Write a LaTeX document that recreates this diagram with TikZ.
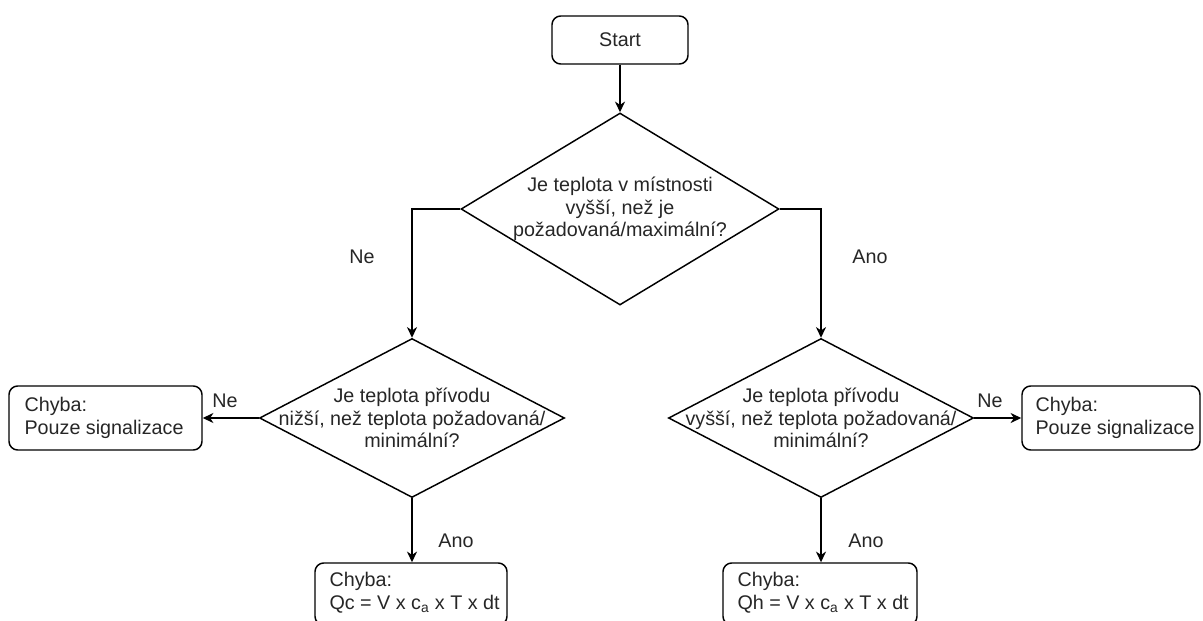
\documentclass[tikz,border=0pt]{standalone}
\usepackage{fontspec}
\setmainfont{Liberation Sans}
\usetikzlibrary{shapes.geometric}
\usetikzlibrary{arrows.meta}

\tikzset{
	every node/.style={font=\fontsize{14.8}{17}\selectfont, text=black!85},
	stepbox/.style={draw, rectangle, rounded corners=6.5pt, line width=1.1pt},
	decision/.style={draw, diamond, inner sep=0pt, line width=1.1pt},
	qtext/.style={align=center, inner sep=0pt},
	boxtext/.style={align=left, anchor=west, inner sep=0pt},
	arr/.style={-{Stealth[length=8pt, width=7.5pt, inset=2.5pt]}, line width=1.1pt},
}

\begin{document}
\begin{tikzpicture}[x=0.75pt, y=-0.75pt]
		\useasboundingbox (0, 0) rectangle (1203, 621);
		\clip (0, 0) rectangle (1203, 621);
		% Blocks:
		\node[stepbox, minimum width=102pt, minimum height=36pt] (start) at (620, 40) {Start};
		\node[decision, minimum width=238.5pt, minimum height=144pt,
			label={[qtext]center:{Je teplota v místnosti\\vyšší, než je\\požadovaná/maximální?}}] (q1) at (620, 209) {};
		\node[decision, minimum width=228.75pt, minimum height=119.25pt,
			label={[qtext]center:{Je teplota přívodu\\nižší, než teplota požadovaná/\\minimální?}}] (q2) at (412, 418) {};
		\node[decision, minimum width=228.75pt, minimum height=119.25pt,
			label={[qtext]center:{Je teplota přívodu\\vyšší, než teplota požadovaná/\\minimální?}}] (q3) at (821, 418) {};
		\node[stepbox, minimum width=144.75pt, minimum height=48pt] (e1) at (105.5, 418) {};
		\node[stepbox, minimum width=133.5pt, minimum height=48pt] (e2) at (1111, 418) {};
		\node[stepbox, minimum width=144pt, minimum height=46.5pt] (e3) at (411, 594) {};
		\node[stepbox, minimum width=145.5pt, minimum height=46.5pt] (e4) at (820, 594) {};
		\node[boxtext] (e1t) at ([xshift=12pt]e1.west) {Chyba:\\Pouze signalizace};
		\node[boxtext] (e2t) at ([xshift=10.5pt]e2.west) {Chyba:\\Pouze signalizace};
		\node[boxtext] (e3t) at ([xshift=11.25pt, yshift=1pt]e3.west) {Chyba:\\Qc = V x c\textsubscript{a} x T x dt};
		\node[boxtext] (e4t) at ([xshift=11.25pt, yshift=1pt]e4.west) {Chyba:\\Qh = V x c\textsubscript{a} x T x dt};
		% Labels:
		\node (ne1) at (362, 257) {Ne};
		\node (ano1) at (870, 257) {Ano};
		\node (ne2) at (225, 401) {Ne};
		\node (ne3) at (990, 401) {Ne};
		\node (ano2) at (456, 541) {Ano};
		\node (ano3) at (866, 541) {Ano};
		% Connectors:
		\draw[arr] (start.south) -- (q1.north);
		\draw[arr] (q1.west) -| (q2.north);
		\draw[arr] (q1.east) -| (q3.north);
		\draw[arr] (q2.west) -- (e1.east);
		\draw[arr] (q3.east) -- (e2.west);
		\draw[arr] (q2.south) -- (q2.south |- e3.north);
		\draw[arr] (q3.south) -- (q3.south |- e4.north);
	\end{tikzpicture}
\end{document}
